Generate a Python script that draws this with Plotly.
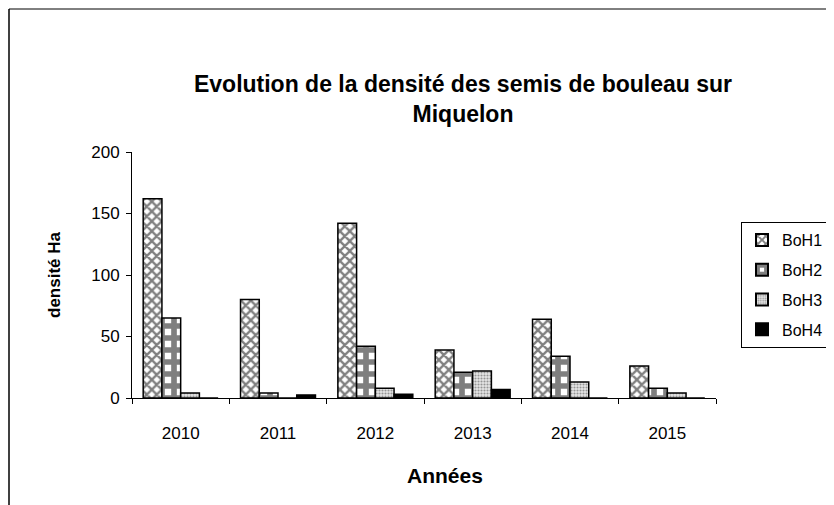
import plotly.graph_objects as go

years = ["2010", "2011", "2012", "2013", "2014", "2015"]
boh1 = [162, 80, 142, 39, 64, 26]
boh2 = [65, 4, 42, 21, 34, 8]
boh3 = [4, 0, 8, 22, 13, 4]
boh4 = [0, 2.5, 3, 7, 0, 0]
series_names = ["BoH1", "BoH2", "BoH3", "BoH4"]

FONT = "Liberation Sans, Arial, sans-serif"

# page body adds an 8px offset; layout values below compensate for it
L, T, R, B = 124, 144, 126, 115
PW, PH = 834 - L - R, 505 - T - B

styles = [
    dict(shape="x", fgcolor="black", bgcolor="white", size=7, solidity=0.55),
    dict(shape="+", fgcolor="black", bgcolor="white", size=12, solidity=0.72),
    dict(shape=".", fgcolor="#444444", bgcolor="#e6e6e6", size=3, solidity=0.4),
    None,
]

fig = go.Figure()
for name, vals, pat in zip(series_names, [boh1, boh2, boh3, boh4], styles):
    if pat is None:
        marker = dict(color="black", line=dict(color="black", width=1.5))
    else:
        marker = dict(color="white", pattern=pat, line=dict(color="black", width=1.5))
    fig.add_trace(go.Bar(x=years, y=vals, name=name, marker=marker, legendgroup=name))

fig.update_layout(
    width=834, height=505,
    barmode="group", bargap=0.23, bargroupgap=0,
    paper_bgcolor="white", plot_bgcolor="white",
    margin=dict(l=L, r=R, t=T, b=B, autoexpand=False),
    font=dict(family=FONT, size=17, color="black"),
    title=dict(
        text="<b>Evolution de la densité des semis de bouleau sur<br>Miquelon</b>",
        x=(463 - 8) / 834, xanchor="center", y=1 - 84 / 505, yanchor="top",
        font=dict(family=FONT, size=23, color="black"),
    ),
    xaxis=dict(
        showline=True, linecolor="black", linewidth=1,
        ticks="outside", tickson="boundaries", ticklen=5, tickcolor="black",
        ticklabelstandoff=20,
        tickfont=dict(size=17),
    ),
    yaxis=dict(
        range=[0, 200], tickvals=[0, 50, 100, 150, 200],
        showline=True, linecolor="black", linewidth=1,
        ticks="outside", ticklen=5, tickcolor="black", showgrid=False, zeroline=False,
        ticklabelstandoff=3,
        title=dict(text="<b>densité Ha</b>", font=dict(size=17), standoff=26),
        tickfont=dict(size=17),
    ),
    legend=dict(
        x=(741 - 8 - L) / PW, xanchor="left", y=(T + PH - (222 - 8)) / PH, yanchor="top",
        bordercolor="black", borderwidth=1, bgcolor="white",
        font=dict(size=16), itemsizing="constant", tracegroupgap=6,
    ),
    annotations=[
        dict(text="<b>Années</b>", xref="paper", yref="paper",
             x=(445 - 132) / PW, y=-(475 - 398) / PH, xanchor="center", yanchor="middle",
             showarrow=False, font=dict(family=FONT, size=21, color="black")),
    ],
    shapes=[
        dict(type="line", xref="paper", yref="paper", x0=(1 - L) / PW, x1=(834 - L) / PW,
             y0=(T + PH - 1) / PH, y1=(T + PH - 1) / PH, line=dict(color="black", width=1)),
        dict(type="line", xref="paper", yref="paper", x0=(1 - L) / PW, x1=(1 - L) / PW,
             y0=(T + PH - 1) / PH, y1=-B / PH, line=dict(color="black", width=1.5)),
    ],
)

fig.write_html("out.html")
